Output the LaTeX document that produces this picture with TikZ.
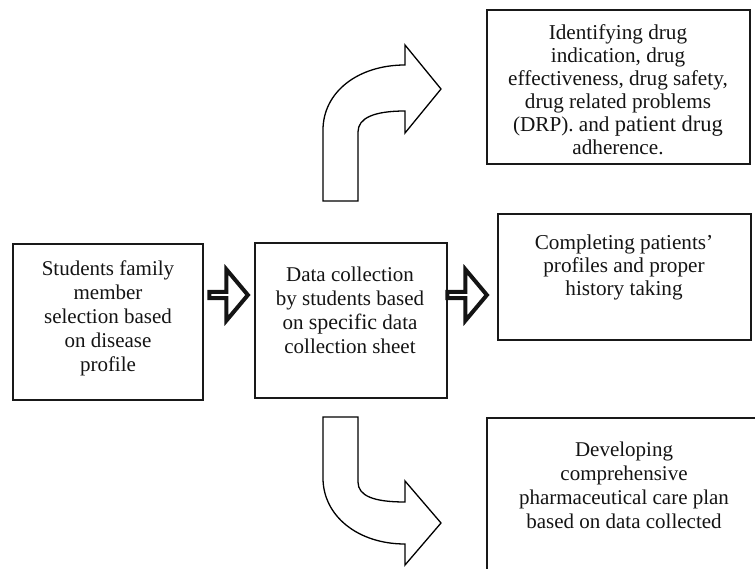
\documentclass[tikz,border=0pt]{standalone}
\usepackage{fontspec}
\setmainfont{Liberation Serif}
\usetikzlibrary{shapes.arrows}
\begin{document}
\begin{tikzpicture}[x=1pt,y=-1pt,
  box/.style={draw=black!90, line width=1.8pt, inner sep=0pt},
  txt/.style={align=center, text=black!92, inner sep=0pt, font=\fontsize{21}{24}\selectfont},
  txtr/.style={txt, font=\fontsize{21.2}{23}\selectfont},
  blockarrow/.style={single arrow, draw=black!92, fill=white, line width=4pt, inner sep=0pt,
    minimum width=51pt, single arrow head extend=14pt, single arrow tip angle=100},
  curvearrow/.style={draw=black, line width=1.3pt, line join=miter, fill=white}]
\useasboundingbox (0,0) rectangle (755,569);
\clip (0,0) rectangle (755,569);
% boxes
\node[box, minimum width=190pt, minimum height=156pt] (b1) at (108,322) {};
\node[box, minimum width=192pt, minimum height=155pt] (b2) at (351,320.5) {};
\node[box, minimum width=263pt, minimum height=154pt] (b3) at (618.5,87) {};
\node[box, minimum width=253pt, minimum height=126pt] (b4) at (624.5,277) {};
\node[box, minimum width=300pt, minimum height=200pt] (b5) at (637,518) {};
% texts
\node[txt] (t1) at (108,318.5) {Students family\\member\\selection based\\on disease\\profile};
\node[txt] (t2) at (350,310.5) {Data collection\\by students based\\on {\fontsize{22}{24}\selectfont specific} data\\collection sheet};
\node[txtr] (t3) at (618,90) {Identifying drug\\indication, drug\\effectiveness, drug safety,\\drug related problems\\(DRP). and {\fontsize{22.5}{23}\selectfont patient drug}\\adherence.};
\node[txtr] (t4) at (624,267.5) {Completing patients’\\profiles and proper\\history taking};
\node[txt] (t5) at (624,485) {Developing\\comprehensive\\pharmaceutical care plan\\based on data collected};
% straight block arrows
\node[blockarrow, minimum height=38.5pt, anchor=tip] (a1) at (250.5,295) {};
\node[blockarrow, minimum height=39.5pt, anchor=tip] (a2) at (489.5,295) {};
% curved arrows
\draw[curvearrow] (323,201) -- (323,130) .. controls (323,92) and (358,65) .. (405,65)
  -- (405,45) -- (441,89) -- (405,133) -- (405,111)
  .. controls (374,111) and (358,118) .. (358,132) -- (358,201) -- cycle;
\draw[curvearrow] (323,417) -- (323,478) .. controls (323,516) and (358,544) .. (405,544)
  -- (405,565) -- (441,523) -- (405,481) -- (405,502)
  .. controls (374,502) and (358,496) .. (358,482) -- (358,417) -- cycle;
\end{tikzpicture}
\end{document}
